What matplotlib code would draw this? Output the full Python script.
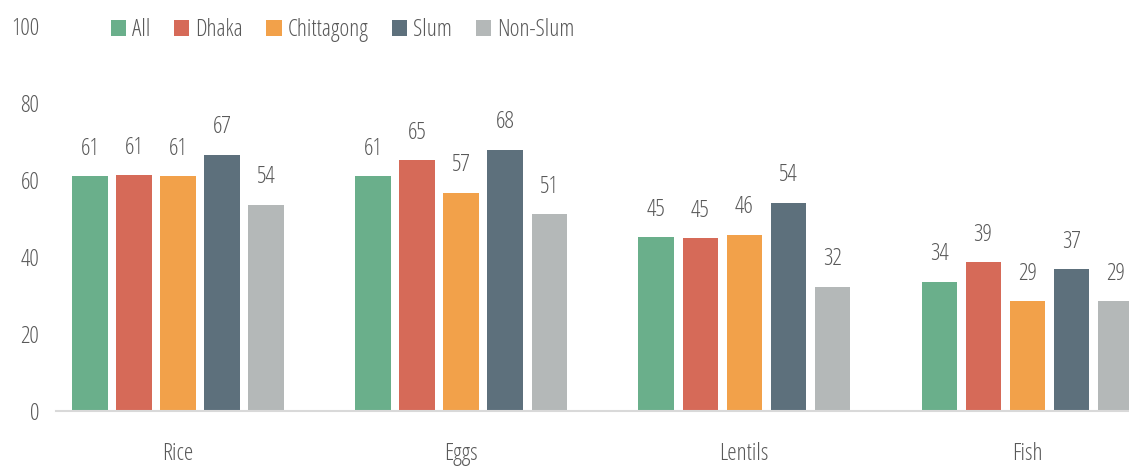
import numpy as np
from matplotlib import pyplot as plt

foods = ['Rice', 'Eggs', 'Lentils', 'Fish']
groups = ['All', 'Dhaka', 'Chittagong', 'Slum', 'Non-Slum']
all_vals = [61.0, 61.0, 45.2, 33.6]
dhaka = [61.3, 65.2, 44.9, 38.7]
chittagong = [61.0, 56.7, 45.8, 28.6]
slum = [66.6, 67.9, 54.1, 36.9]
non_slum = [53.6, 51.2, 32.3, 28.6]
colors = ['#6AAF8B', '#D66A58', '#F2A14A', '#5D707C', '#B4B8B8']

plt.rcParams['font.family'] = ['Open Sans', 'DejaVu Sans']
plt.rcParams['font.stretch'] = 'condensed'
plt.rcParams['font.weight'] = 300
txt = '#595959'
fs = 17

fig = plt.figure(figsize=(11.29, 4.66), dpi=100)
ax = fig.add_axes([56 / 1129, 55 / 466, 1 - 56 / 1129, 385 / 466])

x = np.arange(len(foods))
step = 0.1555
width = 0.124
series = [all_vals, dhaka, chittagong, slum, non_slum]
for i, (vals, name, c) in enumerate(zip(series, groups, colors)):
    pos = x + (i - 2) * step
    bars = ax.bar(pos, vals, width, color=c, label=name)
    for b, v in zip(bars, vals):
        ax.annotate(f'{round(v)}', (b.get_x() + b.get_width() / 2, v),
                    xytext=(0, 11), textcoords='offset points',
                    ha='center', va='bottom', fontsize=fs, color=txt)

ax.set_xlim(-0.431, 3.36)
ax.set_ylim(0, 100)
ax.set_yticks(range(0, 101, 20))
ax.set_xticks(x)
ax.set_xticklabels(foods)
ax.tick_params(length=0, labelsize=fs, labelcolor=txt)
ax.tick_params(axis='y', pad=12)
ax.tick_params(axis='x', pad=22)
for s in ['top', 'right', 'left']:
    ax.spines[s].set_visible(False)
ax.spines['bottom'].set_color('#D9D9D9')
ax.spines['bottom'].set_linewidth(1.5)

ax.legend(loc='upper left', bbox_to_anchor=(0.031, 1.075), ncol=5, frameon=False,
          fontsize=fs, labelcolor=txt, handlelength=0.65, handleheight=0.65,
          handletextpad=0.25, columnspacing=1.0)

fig.savefig('out.png', dpi=100)
